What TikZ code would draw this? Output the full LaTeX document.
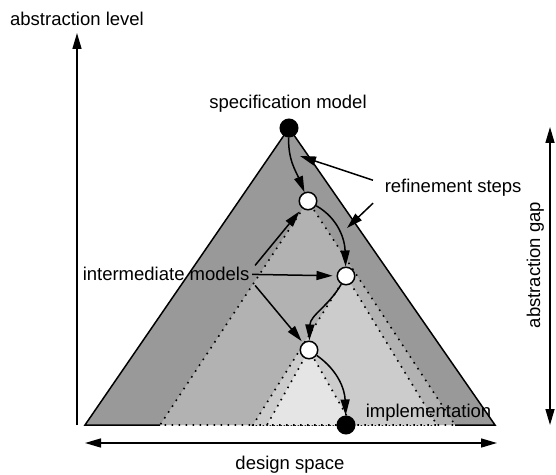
\documentclass[tikz,border=0pt]{standalone}
\usepackage{fontspec}
\setmainfont{Liberation Sans}
\usetikzlibrary{arrows.meta,calc}
\definecolor{shadeA}{gray}{0.60}
\definecolor{shadeB}{gray}{0.70}
\definecolor{shadeC}{gray}{0.80}
\definecolor{shadeD}{gray}{0.90}
\begin{document}
\begin{tikzpicture}[x=1bp,y=1bp,
  font=\fontsize{18.5bp}{22bp}\selectfont,
  >={Triangle[length=16bp,width=9bp]},
  line width=1.5bp,
  model/.style={circle,draw=black,line width=1.5bp,minimum size=17.5bp,inner sep=0pt,fill=white},
  final/.style={model,fill=black},
  txt/.style={inner sep=0pt},
  region/.style={line width=1.6bp,dash pattern=on 1.6bp off 5.4bp},
  refine/.style={->},
  pointer/.style={->,shorten >=4bp},
]
\useasboundingbox (0,0) rectangle (556,-475);

% positions of the models
\coordinate (pSpec) at (289,-128);
\coordinate (pOne)  at (308,-201);
\coordinate (pTwo)  at (346,-276);
\coordinate (pThr)  at (309,-350);
\coordinate (pImp)  at (346,-425);

% nested design-space triangles
\fill[shadeA] (pSpec) -- (85,-425) -- (495,-425) -- cycle;
\filldraw[fill=shadeB,region] (pOne) -- (160,-425) -- (455,-425) -- cycle;
\filldraw[fill=shadeC,region] (pTwo) -- (253,-425) -- (437,-425) -- cycle;
\filldraw[fill=shadeD,region] (pThr) -- (267,-425) -- (352,-425) -- cycle;
\draw[line join=miter] (160,-425) -- (85,-425) -- (pSpec) -- (495,-425) -- (455,-425);

% axes
\coordinate (yTop) at (77,-33);
\coordinate (yBot) at (77,-425);
\draw[->] (yBot) -- (yTop);
\coordinate (xL) at (85,-443);
\coordinate (xR) at (497,-443);
\draw[<->] (xL) -- (xR);
\coordinate (gTop) at (550,-127);
\coordinate (gBot) at (550,-425);
\draw[<->] (gTop) -- (gBot);

% labels
\node[txt,anchor=base] (al) at (77,-26) {abstraction level};
\node[txt,anchor=base] (ds) at (290,-469) {design space};
\node[txt,anchor=base,rotate=90] (ag) at (540,-265) {abstraction gap};
\node[txt,anchor=base] (sm) at (288,-109) {specification model};
\node[txt,anchor=base west] (rs) at (384,-193) {refinement steps};
\node[txt,anchor=base west] (im) at (82,-280) {intermediate models};
\node[txt,anchor=base west] (il) at (365,-417) {implementation};

% models
\node[final] (spec) at (pSpec) {};
\node[model] (n1) at (pOne) {};
\node[model] (n2) at (pTwo) {};
\node[model] (n3) at (pThr) {};
\node[final] (impl) at (pImp) {};

% refinement steps
\draw[refine] (spec) to[out=-92,in=112] (n1);
\draw[refine] (n1) to[out=-30,in=92] (n2);
\draw[refine] (n2) to[out=-120,in=88] (n3);
\draw[refine] (n3) to[out=-35,in=92] (impl);

% pointers from the labels
\coordinate (rsA) at ($(rs.west)+(-11,8)$);
\coordinate (rsB) at ($(rs.west)+(-11,-15)$);
\coordinate (tA) at (300,-156);
\coordinate (tB) at (347,-228);
\draw[->] (rsA) -- (tA);
\draw[->] (rsB) -- (tB);

\coordinate (imA) at ($(im.east)+(5,8)$);
\coordinate (imB) at ($(im.east)+(2,-1)$);
\coordinate (imC) at ($(im.east)+(5,-12)$);
\draw[pointer] (imA) -- (n1);
\draw[pointer] (imB) -- (n2);
\draw[pointer,shorten >=2bp] (imC) -- (n3);
\end{tikzpicture}
\end{document}
